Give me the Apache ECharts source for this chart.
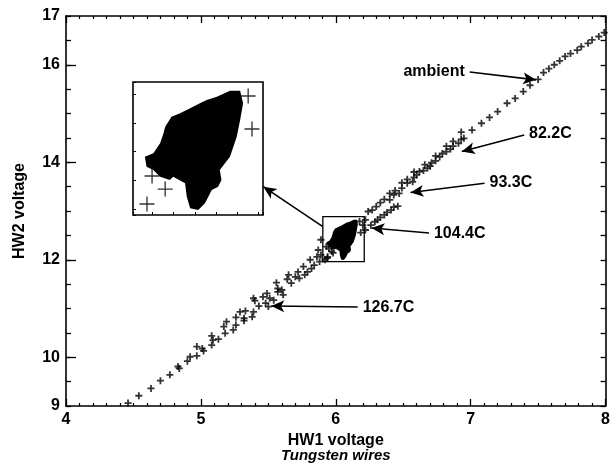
<!DOCTYPE html>
<html>
<head>
<meta charset="utf-8">
<script src="https://cdn.jsdelivr.net/npm/echarts@6/dist/echarts.min.js"></script>
<style>
  html, body { margin: 0; padding: 0; background: #fff; }
  #chart { width: 613px; height: 472px; }
</style>
</head>
<body>
<div id="chart"></div>
<script>
// x = HW1 voltage, y = HW2 voltage
const lowerLine = [
  [4.46, 9.06], [4.54, 9.21], [4.63, 9.36], [4.70, 9.52], [4.77, 9.64], [4.83, 9.81], [4.84, 9.77],
  [4.90, 9.92], [4.92, 10.01], [4.97, 10.03], [4.97, 10.22], [5.01, 10.18], [5.02, 10.13],
  [5.08, 10.44], [5.09, 10.35], [5.08, 10.25], [5.13, 10.37], [5.17, 10.63], [5.18, 10.49],
  [5.19, 10.73], [5.24, 10.56], [5.26, 10.82], [5.26, 10.66], [5.29, 10.93]
]
const lowerBand = [
  [5.32, 10.80], [5.33, 10.95], [5.32, 10.75], [5.38, 10.83], [5.39, 10.93], [5.40, 11.16],
  [5.43, 11.05], [5.39, 11.21], [5.46, 11.24], [5.48, 11.11], [5.49, 11.31], [5.51, 11.21],
  [5.50, 11.04], [5.54, 11.17], [5.57, 11.34], [5.56, 11.53], [5.57, 11.41], [5.60, 11.38],
  [5.61, 11.28], [5.64, 11.60], [5.65, 11.69], [5.67, 11.52], [5.70, 11.65], [5.72, 11.75],
  [5.73, 11.62], [5.76, 11.86], [5.77, 11.69], [5.79, 11.75], [5.81, 12.00], [5.82, 11.82],
  [5.84, 11.89], [5.86, 12.06], [5.87, 12.20], [5.88, 11.96], [5.89, 12.10], [5.92, 12.00],
  [5.94, 12.06], [5.97, 12.17], [5.93, 12.27], [5.89, 12.41]
]
const upperBandLow = [
  [6.20, 12.71], [6.22, 12.61], [6.22, 12.82], [6.26, 12.71], [6.29, 12.78], [6.31, 12.82],
  [6.33, 12.87], [6.36, 12.92], [6.38, 12.97], [6.41, 13.02], [6.43, 13.08], [6.46, 13.10]
]
const upperBandHigh = [
  [6.24, 12.99], [6.27, 13.02], [6.30, 13.09], [6.33, 13.17], [6.36, 13.24], [6.40, 13.23],
  [6.40, 13.36], [6.43, 13.33], [6.44, 13.42], [6.47, 13.36], [6.49, 13.47], [6.49, 13.58],
  [6.53, 13.57], [6.53, 13.65], [6.57, 13.60], [6.58, 13.69], [6.58, 13.80], [6.60, 13.74],
  [6.62, 13.81], [6.65, 13.83], [6.66, 13.95], [6.68, 13.88], [6.70, 13.92], [6.71, 13.99],
  [6.74, 14.03], [6.74, 14.13], [6.77, 14.11], [6.79, 14.18], [6.82, 14.22], [6.82, 14.33],
  [6.85, 14.27], [6.87, 14.33], [6.87, 14.43], [6.91, 14.39], [6.93, 14.47], [6.93, 14.62],
  [6.95, 14.49]
]
const ambient = [
  [7.01, 14.66], [7.08, 14.80], [7.14, 14.92], [7.20, 15.04], [7.27, 15.21], [7.33, 15.31],
  [7.39, 15.45], [7.44, 15.58], [7.50, 15.70], [7.54, 15.84], [7.58, 15.92], [7.62, 16.00],
  [7.66, 16.08], [7.70, 16.17], [7.74, 16.23], [7.79, 16.30], [7.82, 16.37], [7.87, 16.44],
  [7.90, 16.51], [7.95, 16.58], [7.99, 16.66]
]
// outline of the dense 104.4C cluster
const clusterOutline = [
  [6.157, 12.823], [6.164, 12.735], [6.157, 12.619], [6.149, 12.503], [6.133, 12.365],
  [6.109, 12.272], [6.113, 12.203], [6.105, 12.156], [6.090, 12.134], [6.074, 12.041],
  [6.058, 11.995], [6.039, 12.007], [6.031, 12.087], [6.027, 12.180], [5.999, 12.226],
  [5.991, 12.203], [5.968, 12.226], [5.952, 12.272], [5.936, 12.295], [5.932, 12.365],
  [5.952, 12.388], [5.968, 12.458], [5.976, 12.527], [5.980, 12.573], [5.995, 12.642],
  [6.015, 12.666], [6.039, 12.700], [6.062, 12.735], [6.078, 12.758], [6.102, 12.781],
  [6.133, 12.823]
]
const clusterOutliers = [[6.176, 12.786], [6.185, 12.557], [5.949, 12.231], [5.980, 12.140], [5.937, 12.036]]
// zoom box around the cluster
const zoomX = [5.904, 6.211]
const zoomY = [11.96, 12.883]
const yLabels = [9, 10, 12, 14, 16, 17]
const yMajor = [10, 12, 14, 16]
// annotations: [label, startX, startY, endX, endY]
const arrows = [
  ['ambient', 6.993, 15.85, 7.485, 15.69],
  ['82.2C', 7.397, 14.56, 6.934, 14.22],
  ['93.3C', 7.103, 13.57, 6.554, 13.38],
  ['104.4C', 6.691, 12.55, 6.265, 12.65],
  ['126.7C', 6.162, 11.03, 5.522, 11.05],
  ['', 5.904, 12.68, 5.463, 13.50]
]

const FONT = '"Liberation Sans", Arial, Helvetica, sans-serif'
const plus = 'path://M2.6,0H4.4V2.6H7V4.4H4.4V7H2.6V4.4H0V2.6H2.6Z'
const bigPlus = 'path://M9.1,0H10.9V9.1H20V10.9H10.9V20H9.1V10.9H0V9.1H9.1Z'

const chart = echarts.init(document.getElementById('chart'))

function blob (xi, yi) {
  return {
    type: 'custom',
    xAxisIndex: xi,
    yAxisIndex: yi,
    silent: true,
    data: [0],
    renderItem: (params, api) => ({
      type: 'polygon',
      shape: { points: clusterOutline.map(p => api.coord(p)) },
      style: { fill: '#000' }
    })
  }
}

function dots (data) {
  return {
    type: 'scatter',
    xAxisIndex: 0,
    yAxisIndex: 0,
    silent: true,
    symbol: plus,
    symbolSize: 7,
    itemStyle: { color: '#000' },
    data: data
  }
}

const ambientSeries = dots(ambient)
ambientSeries.markLine = {
  silent: true,
  symbol: ['none', 'arrow'],
  symbolSize: [9, 13],
  lineStyle: { color: '#000', width: 1.6, type: 'solid' },
  label: { show: true, position: 'start', distance: 5, formatter: '{b}', color: '#000', fontSize: 16, fontWeight: 'bold', fontFamily: FONT },
  data: arrows.map(a => [
    { name: a[0], coord: [a[1], a[2]], label: { show: a[0] !== '' } },
    { coord: [a[3], a[4]] }
  ])
}
ambientSeries.markArea = {
  silent: true,
  itemStyle: { color: 'rgba(0,0,0,0)', borderColor: '#000', borderWidth: 1.3 },
  data: [[{ coord: [zoomX[0], zoomY[1]] }, { coord: [zoomX[1], zoomY[0]] }]]
}

const option = {
  backgroundColor: '#fff',
  animation: false,
  grid: [
    { left: 66, right: 3, top: 16, bottom: 66 },
    { left: 133, top: 82, width: 130, height: 133, show: true, backgroundColor: '#fff', borderColor: '#000', borderWidth: 1.6 }
  ],
  xAxis: [
    {
      gridIndex: 0, type: 'value', position: 'bottom', min: 4, max: 8, interval: 1,
      axisLine: { lineStyle: { color: '#000', width: 1.6 } },
      axisTick: { inside: true, length: 7, lineStyle: { color: '#000', width: 1.3 } },
      minorTick: { show: true, splitNumber: 10, length: 3, lineStyle: { color: '#000', width: 1.2 } },
      splitLine: { show: false },
      axisLabel: { color: '#000', fontSize: 16, fontWeight: 'bold', fontFamily: FONT, margin: 6 },
      name: '{a|HW1 voltage}\n{b|Tungsten wires}',
      nameLocation: 'middle',
      nameGap: 24,
      nameTextStyle: {
        color: '#000',
        rich: {
          a: { fontSize: 16, fontWeight: 'bold', fontFamily: FONT, color: '#000', lineHeight: 15, align: 'center' },
          b: { fontSize: 15, fontWeight: 'bold', fontFamily: FONT, fontStyle: 'italic', color: '#000', lineHeight: 15, align: 'center' }
        }
      }
    },
    {
      gridIndex: 0, type: 'value', position: 'top', min: 4, max: 8, interval: 1,
      axisLine: { lineStyle: { color: '#000', width: 1.6 } },
      axisTick: { inside: true, length: 7, lineStyle: { color: '#000', width: 1.3 } },
      minorTick: { show: true, splitNumber: 10, length: 3, lineStyle: { color: '#000', width: 1.2 } },
      splitLine: { show: false },
      axisLabel: { show: false }
    },
    {
      gridIndex: 1, type: 'value', position: 'bottom', min: zoomX[0], max: zoomX[1],
      axisLine: { show: false },
      axisTick: { inside: true, length: 3, lineStyle: { color: '#000' } },
      splitLine: { show: false },
      axisLabel: { show: false }
    }
  ],
  yAxis: [
    {
      gridIndex: 0, type: 'value', position: 'left', min: 9, max: 17, interval: 0.5,
      axisLine: { show: true, lineStyle: { color: '#000', width: 1.6 } },
      axisTick: { inside: true, length: 5, lineStyle: { color: '#000', width: 1.3 } },
      splitLine: { show: false },
      axisLabel: { customValues: yLabels, color: '#000', fontSize: 16, fontWeight: 'bold', fontFamily: FONT, margin: 6 },
      name: 'HW2 voltage',
      nameLocation: 'middle',
      nameGap: 38,
      nameTextStyle: { color: '#000', fontSize: 16, fontWeight: 'bold', fontFamily: FONT }
    },
    {
      gridIndex: 0, type: 'value', position: 'left', min: 9, max: 17,
      axisLine: { show: false },
      axisTick: { customValues: yMajor, inside: true, length: 10, lineStyle: { color: '#000', width: 1.3 } },
      splitLine: { show: false },
      axisLabel: { show: false }
    },
    {
      gridIndex: 0, type: 'value', position: 'right', min: 9, max: 17, interval: 0.5,
      axisLine: { show: true, lineStyle: { color: '#000', width: 1.6 } },
      axisTick: { inside: true, length: 5, lineStyle: { color: '#000', width: 1.3 } },
      splitLine: { show: false },
      axisLabel: { show: false }
    },
    {
      gridIndex: 1, type: 'value', position: 'left', min: zoomY[0], max: zoomY[1],
      axisLine: { show: false },
      axisTick: { inside: true, length: 3, lineStyle: { color: '#000' } },
      splitLine: { show: false },
      axisLabel: { show: false }
    }
  ],
  series: [
    blob(0, 0),
    dots(lowerLine),
    dots(lowerBand),
    dots(upperBandLow),
    dots(upperBandHigh),
    dots(clusterOutliers),
    ambientSeries,
    blob(2, 3),
    {
      type: 'scatter',
      xAxisIndex: 2,
      yAxisIndex: 3,
      silent: true,
      symbol: bigPlus,
      symbolSize: 15,
      itemStyle: { color: '#000' },
      data: clusterOutliers
    }
  ]
}
chart.setOption(option)
</script>
</body>
</html>
